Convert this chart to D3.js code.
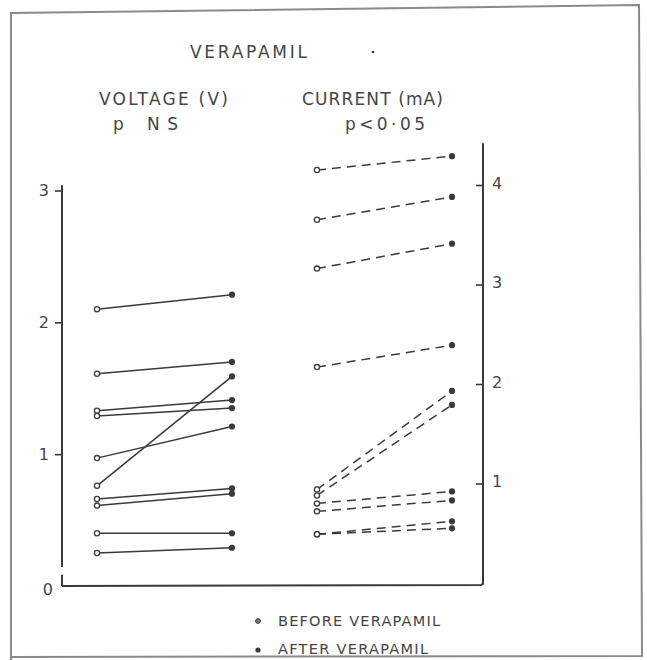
<!DOCTYPE html>
<html>
<head>
<meta charset="utf-8">
<script src="https://cdn.jsdelivr.net/npm/d3@7"></script>
<style>
  html, body { margin: 0; padding: 0; background: #fff; }
  svg { display: block; }
  text { font-family: "DejaVu Sans", sans-serif; fill: #454545; }
</style>
</head>
<body>
<svg id="chart" width="647" height="660"></svg>
<script>
// Paired measurements, before -> after verapamil
const voltageBefore = [2.10, 1.61, 1.33, 1.29, 0.97, 0.76, 0.66, 0.61, 0.40, 0.25];
const voltageAfter  = [2.21, 1.70, 1.41, 1.35, 1.21, 1.59, 0.74, 0.70, 0.40, 0.29];
const currentBefore = [4.15, 3.65, 3.16, 2.17, 0.94, 0.88, 0.80, 0.72, 0.49, 0.49];
const currentAfter  = [4.29, 3.88, 3.41, 2.39, 1.93, 1.79, 0.92, 0.83, 0.62, 0.55];
const voltageTicks = [0, 1, 2, 3];
const currentTicks = [1, 2, 3, 4];
const legendLabels = ["BEFORE VERAPAMIL", "AFTER VERAPAMIL"];

const ink = "#3a3a3a";
const svg = d3.select("#chart");

// Frame around the figure
svg.append("path")
  .attr("d", "M11,660 L11,13 L639,5 L642,656 L11,657")
  .attr("fill", "none").attr("stroke", "#8a8a8a").attr("stroke-width", 2);

// Scales
const yV = d3.scaleLinear().domain([0, 3]).range([586, 190.5]);
const yC = d3.scaleLinear().domain([0, 4]).range([583, 185]);
const xV = d3.scalePoint().domain(["before", "after"]).range([97, 232]);
const xC = d3.scalePoint().domain(["before", "after"]).range([317, 452]);

const leftX = 62, rightX = 483;

// Axis lines
const axisG = svg.append("g").attr("stroke", ink).attr("stroke-width", 2).attr("fill", "none");
axisG.append("line").attr("x1", leftX).attr("x2", leftX).attr("y1", yV(3.04)).attr("y2", yV(0.145));
axisG.append("line").attr("x1", leftX).attr("x2", leftX).attr("y1", yV(0.085)).attr("y2", yV(0));
axisG.append("path")
  .attr("d", `M${leftX},${yV(0)} L${rightX - 2},${yV(0) - 1} L${rightX},${yC(0) + 1} L${rightX},${yC(4.42)}`);

// Left (voltage) axis ticks
const axL = d3.axisLeft(yV).tickValues(voltageTicks).tickSize(7).tickPadding(6).tickFormat(d3.format("d"));
const gL = svg.append("g").attr("transform", `translate(${leftX},0)`).call(axL);
gL.select(".domain").remove();
gL.selectAll(".tick line").attr("stroke", ink).attr("stroke-width", 1.6)
  .filter(d => d === 0).remove();
gL.selectAll(".tick text").attr("font-size", 16).attr("fill", "#454545")
  .attr("font-family", "DejaVu Sans, sans-serif")
  .attr("dx", d => d === 0 ? 4 : 0)
  .attr("dy", d => d === 0 ? "0.55em" : "0.32em");

// Right (current) axis ticks, drawn inward
const axR = d3.axisRight(yC).tickValues(currentTicks).tickSizeInner(-7).tickSizeOuter(0).tickPadding(9).tickFormat(d3.format("d"));
const gR = svg.append("g").attr("transform", `translate(${rightX},0)`).call(axR);
gR.select(".domain").remove();
gR.selectAll(".tick line").attr("stroke", ink).attr("stroke-width", 1.6);
gR.selectAll(".tick text").attr("font-size", 16).attr("fill", "#454545")
  .attr("font-family", "DejaVu Sans, sans-serif")
  .attr("dy", "0.2em");

// Voltage pairs (solid) and current pairs (dashed)
const vPairs = voltageBefore.map((b, i) => ({ b, a: voltageAfter[i] }));
const cPairs = currentBefore.map((b, i) => ({ b, a: currentAfter[i] }));

svg.append("g").selectAll("line").data(vPairs).join("line")
  .attr("x1", xV("before")).attr("x2", xV("after"))
  .attr("y1", d => yV(d.b)).attr("y2", d => yV(d.a))
  .attr("stroke", ink).attr("stroke-width", 1.5);

svg.append("g").selectAll("line").data(cPairs).join("line")
  .attr("x1", xC("before")).attr("x2", xC("after"))
  .attr("y1", d => yC(d.b)).attr("y2", d => yC(d.a))
  .attr("stroke", ink).attr("stroke-width", 1.5).attr("stroke-dasharray", "9,6");

// Markers: open = before, filled = after
function markers(data, x, y) {
  const g = svg.append("g");
  g.selectAll("circle.b").data(data).join("circle").attr("class", "b")
    .attr("cx", x("before")).attr("cy", d => y(d.b)).attr("r", 2.6)
    .attr("fill", "#fff").attr("stroke", ink).attr("stroke-width", 1.3);
  g.selectAll("circle.a").data(data).join("circle").attr("class", "a")
    .attr("cx", x("after")).attr("cy", d => y(d.a)).attr("r", 3.1)
    .attr("fill", ink);
}
markers(vPairs, xV, yV);
markers(cPairs, xC, yC);

// Headings
function label(txt, x, y, size, len) {
  svg.append("text").attr("x", x).attr("y", y).attr("font-size", size)
    .attr("textLength", len).attr("lengthAdjust", "spacing").text(txt);
}
label("VERAPAMIL", 190, 58, 17, 117);
svg.append("circle").attr("cx", 373).attr("cy", 52).attr("r", 1.3).attr("fill", ink);
label("VOLTAGE (V)", 99, 105, 17, 129);
label("p", 113, 130, 17, 9);
label("NS", 147, 130, 17, 31);
label("CURRENT (mA)", 302, 105, 17, 141);
label("p<0·05", 345, 130, 17, 80);

// Legend
const legY = [621, 650];
svg.append("circle").attr("cx", 258).attr("cy", legY[0]).attr("r", 2.4)
  .attr("fill", "#777").attr("stroke", ink).attr("stroke-width", 1);
svg.append("circle").attr("cx", 258).attr("cy", legY[1]).attr("r", 2.6).attr("fill", ink);
label(legendLabels[0], 278, 626, 14.5, 162);
label(legendLabels[1], 278, 654, 14.5, 150);
</script>
</body>
</html>
